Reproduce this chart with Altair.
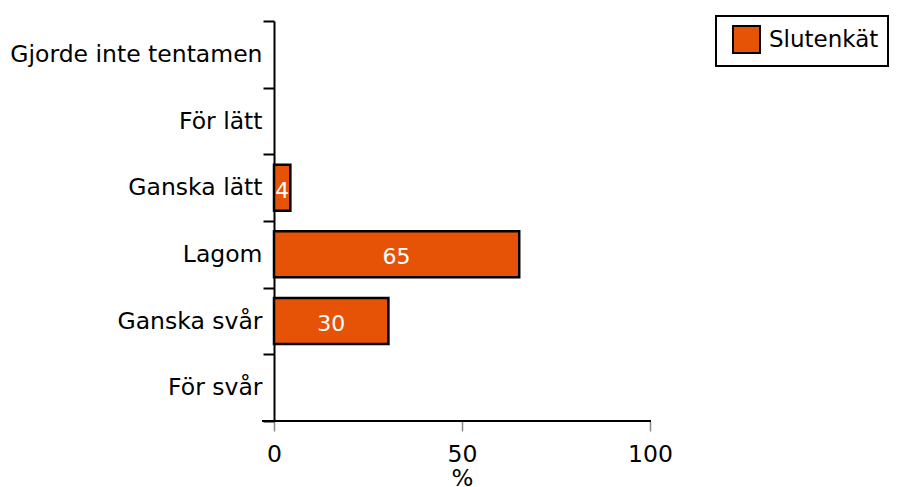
import altair as alt
import pandas as pd

categories = ["Gjorde inte tentamen", "För lätt", "Ganska lätt", "Lagom", "Ganska svår", "För svår"]
values = [0, 0, 4.35, 65.22, 30.43, 0]
series = "Slutenkät"

df = pd.DataFrame({"cat": categories, "val": values, "series": series})
bars_df = df[df["val"] > 0]

W, H = 376, 400
orange = "#E65306"

y_enc = alt.Y("cat:N", sort=categories, title=None,
              scale=alt.Scale(domain=categories, paddingInner=0, paddingOuter=0),
              axis=alt.Axis(tickBand="extent", domainColor="black", domainWidth=2,
                            tickColor="black", tickWidth=2, tickSize=11,
                            labelPadding=1, labelFont="DejaVu Sans", labelFontSize=23.5,
                            labelColor="black", labelLimit=400))

bars = alt.Chart(bars_df).mark_bar(stroke="black", strokeWidth=2.5,
                                   height=alt.RelativeBandSize(band=0.69)).encode(
    x=alt.X("val:Q", scale=alt.Scale(domain=[0, 100]), title="%",
            axis=alt.Axis(values=[0, 50, 100], domain=False, tickColor="#888888",
                          tickWidth=1.5, tickSize=10, grid=False, labelPadding=11,
                          labelFlush=False,
                          labelFont="DejaVu Sans", labelFontSize=23.5, labelColor="black",
                          titleFont="DejaVu Sans", titleFontSize=23, titleFontWeight="normal",
                          titleColor="black", titlePadding=2)),
    y=y_enc,
    color=alt.Color("series:N", scale=alt.Scale(domain=[series], range=[orange]),
                    legend=alt.Legend(title=None, orient="none", legendX=442, legendY=-5,
                                      symbolType="square", symbolSize=729,
                                      symbolStrokeColor="black", symbolStrokeWidth=2,
                                      symbolOpacity=1, symbolOffset=7,
                                      labelFont="DejaVu Sans", labelFontSize=23,
                                      labelColor="black", padding=9,
                                      strokeColor="black", labelOffset=8)),
)

text = alt.Chart(bars_df).mark_text(color="white", font="DejaVu Sans", fontSize=22,
                                   baseline="middle", dy=3).encode(
    x=alt.X("half:Q"),
    y=alt.Y("cat:N", sort=categories),
    text=alt.Text("val:Q", format=".0f"),
).transform_calculate(half="datum.val / 2")

xline = alt.Chart(df.head(1)).mark_rule(color="black", strokeWidth=2).encode(
    x=alt.value(-12), x2=alt.value(W + 1), y=alt.value(H)
)

chart = alt.layer(bars, text, xline).properties(
    width=W, height=H,
    padding={"left": 1, "top": 1, "right": 0, "bottom": 0},
).configure(
    background="white"
).configure_view(stroke=None).configure_legend(strokeWidth=2, cornerRadius=0)

chart.save("out.html", embed_options={"renderer": "svg", "actions": False})
